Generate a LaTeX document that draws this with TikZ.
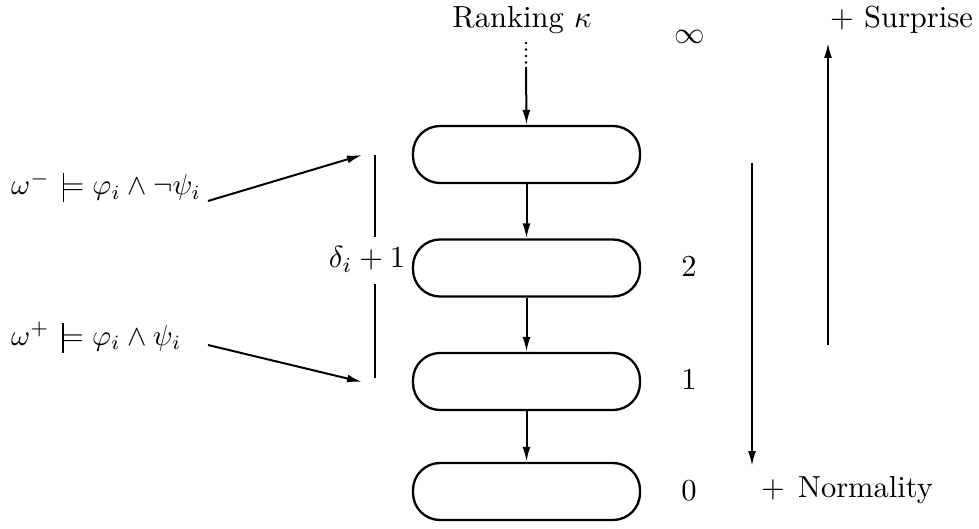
\documentclass[tikz,border=0pt]{standalone}
\usetikzlibrary{arrows.meta}
\newcommand\Tx[1]{\scalebox{3.05}{#1}}
\newcommand\Tw[1]{\scalebox{2.9}{#1}}
\newcommand\satis{\mathrel{\rule[-0.6ex]{0.45pt}{2.35ex}\mkern-1.4mu\mathord{=}}}
\begin{document}
\begin{tikzpicture}[x=1pt,y=-1pt,
  txt/.style={inner sep=0pt},
  level/.style={draw,line width=2.3pt,rounded corners=27pt,minimum width=227pt,minimum height=57pt,inner sep=0pt},
  conn/.style={line width=2pt,-{Latex[length=15pt,width=8pt]}},
  bar/.style={line width=2pt}]
\useasboundingbox (0,0) rectangle (979,529);
\node[txt,anchor=base] (rank) at (522,28) {\Tx{Ranking $\kappa$}};
\node[level] (b1) at (526.5,154.5) {};
\node[level] (b2) at (526.5,268) {};
\node[level] (b3) at (526.5,381.5) {};
\node[level] (b4) at (526.5,491.5) {};
\coordinate (d1) at (526,43);
\coordinate (d2) at (526,67);
\draw[line width=2.6pt,line cap=round,dash pattern=on 0pt off 6.5pt] (d1) -- (d2);
\draw[conn] (d2) -- (b1.north);
\draw[conn] (b1.south) -- (b2.north);
\draw[conn] (b2.south) -- (b3.north);
\draw[conn] (b3.south) -- (b4.north);
\node[txt] (inf) at (690,37) {\Tx{$\infty$}};
\node[txt] (n2) at (689,267) {\Tx{$2$}};
\node[txt] (n1) at (689,380) {\Tx{$1$}};
\node[txt] (n0) at (689,491) {\Tx{$0$}};
\node[txt,anchor=base west] (surp) at (830,28) {\Tx{$+$ Surprise}};
\node[txt,anchor=base west] (norm) at (761,497) {\Tx{$+$\hspace{1pt} Normality}};
\coordinate (ua) at (828,345);
\coordinate (ub) at (828,43);
\draw[conn] (ua) -- (ub);
\coordinate (da) at (752,163);
\coordinate (db) at (752,466);
\draw[conn] (da) -- (db);
\node[txt,anchor=base] (delta) at (367,268) {\Tx{$\delta_i+1$}};
\coordinate (v1) at (375,155);
\coordinate (v2) at (375,237);
\coordinate (v3) at (375,284);
\coordinate (v4) at (375,378);
\draw[bar] (v1) -- (v2);
\draw[bar] (v3) -- (v4);
\node[txt,anchor=base west] (wm) at (11,195) {\Tw{$\omega^-\, \satis \varphi_i\wedge\neg\psi_i$}};
\node[txt,anchor=base west] (wp) at (11,345) {\Tw{$\omega^+\, \satis \varphi_i\wedge\psi_i$}};
\coordinate (sm) at (208,201);
\coordinate (sp) at (208,345);
\coordinate (tm) at (362,155);
\coordinate (tp) at (362,382);
\draw[conn] (sm) -- (tm);
\draw[conn] (sp) -- (tp);
\end{tikzpicture}
\end{document}
